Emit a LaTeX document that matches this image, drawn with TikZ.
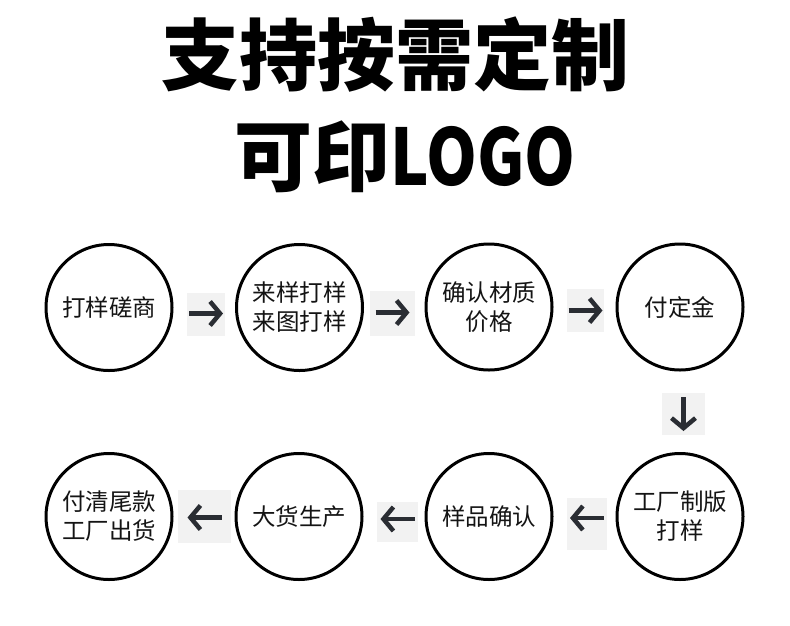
\documentclass[tikz,border=0pt]{standalone}
\usepackage{fontspec}
\setmainfont{Noto Sans CJK SC}
\newfontfamily\titlefont{Noto Sans CJK SC Black}
\usetikzlibrary{arrows.meta}
\definecolor{arrcol}{HTML}{2A2D33}
\definecolor{boxcol}{HTML}{F2F2F2}
\begin{document}
\begin{tikzpicture}[x=1pt,y=-1pt,
  stage/.style={circle,draw=black,line width=3pt,minimum size=126pt,inner sep=0pt,align=center,font=\fontsize{23.5}{29}\selectfont,text=black!92},
  abox/.style={fill=boxcol,inner sep=0pt},
  arr/.style={line width=4.5pt,color=arrcol,-{Straight Barb[length=10pt,width=24pt]}}
]
\useasboundingbox (0,0) rectangle (790,625);
\fill[white] (0,0) rectangle (790,625);
% titles
\node[font=\titlefont\fontsize{78}{78}\selectfont,inner sep=0pt] (t1) at (395,55) {支持按需定制};
\node[font=\titlefont\fontsize{78}{78}\selectfont,inner sep=0pt] (t2) at (405,157) {可印\scalebox{0.83}[1]{LOGO}};
% stages
\node[stage] (s1) at (109,307.5) {打样磋商};
\node[stage] (s2) at (299.5,307.5) {来样打样\\来图打样};
\node[stage] (s3) at (489,307) {确认材质\\价格};
\node[stage] (s4) at (680,307) {付定金};
\node[stage] (s5) at (680,516.5) {工厂制版\\打样};
\node[stage] (s6) at (489,516.5) {样品确认};
\node[stage] (s7) at (299,516.5) {大货生产};
\node[stage] (s8) at (109,516.5) {付清尾款\\工厂出货};
% arrow boxes
\node[abox,minimum width=38pt,minimum height=43pt] (b1) at (206,314.5) {};
\node[abox,minimum width=45pt,minimum height=45pt] (b2) at (392.5,313.5) {};
\node[abox,minimum width=37pt,minimum height=43pt] (b3) at (585.5,310.5) {};
\node[abox,minimum width=43pt,minimum height=42pt] (bd) at (683.5,414) {};
\node[abox,minimum width=40pt,minimum height=52pt] (b4) at (587,524) {};
\node[abox,minimum width=41pt,minimum height=40pt] (b5) at (397.5,522) {};
\node[abox,minimum width=53pt,minimum height=53pt] (b6) at (204.5,516.5) {};
% arrows
\draw[arr] ([xshift=-17pt,yshift=1pt]b1.center) -- ([xshift=17pt,yshift=1pt]b1.center);
\draw[arr] ([xshift=-17pt,yshift=1pt]b2.center) -- ([xshift=17pt,yshift=1pt]b2.center);
\draw[arr] ([xshift=-17pt]b3.center) -- ([xshift=17pt]b3.center);
\draw[arr] ([yshift=17pt]bd.center) -- ([yshift=-17pt]bd.center);
\draw[arr] ([xshift=17pt,yshift=6pt]b4.center) -- ([xshift=-17pt,yshift=6pt]b4.center);
\draw[arr] ([xshift=17pt,yshift=3pt]b5.center) -- ([xshift=-17pt,yshift=3pt]b5.center);
\draw[arr] ([xshift=17pt,yshift=-1pt]b6.center) -- ([xshift=-17pt,yshift=-1pt]b6.center);
\end{tikzpicture}
\end{document}
